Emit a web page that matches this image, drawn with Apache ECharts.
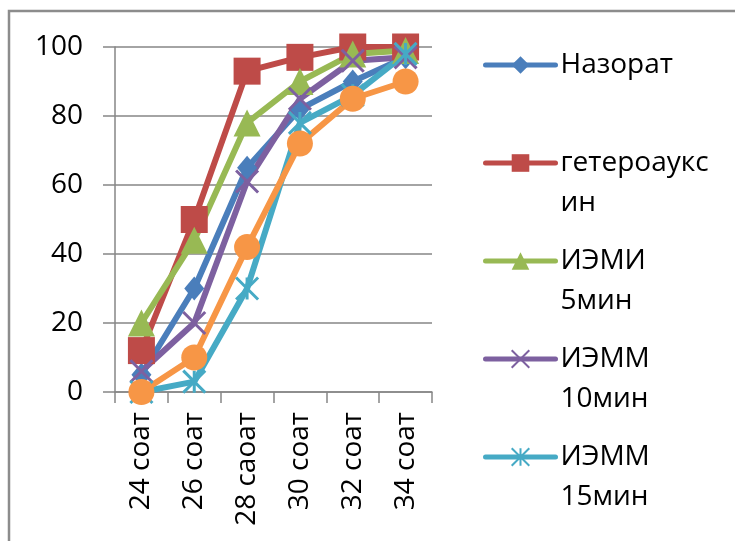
<!DOCTYPE html>
<html>
<head>
<meta charset="utf-8">
<script src="https://cdn.jsdelivr.net/npm/echarts@6/dist/echarts.min.js"></script>
<style>
  html, body { margin: 0; padding: 0; background: #ffffff; }
  #chart { width: 735px; height: 541px; }
</style>
</head>
<body>
<div id="chart"></div>
<script>
// Rooting percentage over time (hours)
const categories = ['24 соат', '26 соат', '28 саоат', '30 соат', '32 соат', '34 соат'];
const yTicks = { min: 0, max: 100, interval: 20 };

const nazorat      = [5, 30, 65, 82, 90, 97];
const geteroauksin = [12, 50, 93, 97, 100, 100];
const iemi5        = [20, 44, 78, 90, 98, 99];
const iemm10       = [6, 20, 61, 85, 96, 97];
const iemm15       = [0, 3, 30, 78, 86, 98];
const iemm20       = [0, 10, 42, 72, 85, 90];

const seriesNames = ['Назорат', 'гетероауксин', 'ИЭМИ 5мин', 'ИЭММ 10мин', 'ИЭММ 15мин', 'ИЭММ 20мин'];
const legendNames = seriesNames.slice(0, 5);
// Wrapped legend labels (leading blank line keeps the first line level with the icon)
const legendLabels = {
  'Назорат': '\nНазорат\n',
  'гетероауксин': '\nгетероаукс\nин',
  'ИЭМИ 5мин': '\nИЭМИ\n5мин',
  'ИЭММ 10мин': '\nИЭММ\n10мин',
  'ИЭММ 15мин': '\nИЭММ\n15мин'
};

const colors = ['#4A7EBB', '#BE4B48', '#98B954', '#7D60A0', '#46AAC5', '#F79646'];
const crossPath = 'path://M0,0L10,10M10,0L0,10';
const starPath = 'path://M0,0L10,10M10,0L0,10M5,0L5,10';

const FONT = 'Open Sans';
const axisGray = '#868686';

function lineSeries(name, data, color, symbol, size, stroked) {
  return {
    name: name,
    type: 'line',
    data: data,
    symbol: symbol,
    symbolSize: size,
    showAllSymbol: true,
    lineStyle: { color: color, width: 6 },
    itemStyle: stroked
      ? { color: color, borderColor: color, borderWidth: 3 }
      : { color: color, borderWidth: 0 },
    emphasis: { disabled: true },
    animation: false
  };
}

const chart = echarts.init(document.getElementById('chart'), null, { renderer: 'canvas' });
chart.setOption({
  backgroundColor: '#ffffff',
  color: colors,
  textStyle: { fontFamily: FONT },
  graphic: [{
    type: 'rect',
    shape: { x: 9, y: 11, width: 800, height: 600 },
    style: { fill: 'none', stroke: '#8C8C8C', lineWidth: 2.5 },
    z: -1
  }],
  grid: { left: 115, right: 303, top: 47, bottom: 149 },
  legend: {
    data: legendNames,
    orient: 'vertical',
    left: 483,
    top: 5,
    padding: 0,
    itemGap: -22,
    itemWidth: 70,
    itemHeight: 22,
    lineStyle: { width: 5, cap: 'round' },
    formatter: function (n) { return legendLabels[n] || n; },
    textStyle: { fontFamily: FONT, fontSize: 28, lineHeight: 40, color: '#000000' },
    selectedMode: false
  },
  xAxis: {
    type: 'category',
    data: categories,
    boundaryGap: true,
    axisLine: { show: true, lineStyle: { color: axisGray, width: 1.5 } },
    axisTick: { show: true, length: 11, alignWithLabel: false, lineStyle: { color: axisGray, width: 1.5 } },
    axisLabel: { rotate: 90, margin: 20, fontFamily: FONT, fontSize: 28, color: '#000000', interval: 0 },
    splitLine: { show: false }
  },
  yAxis: {
    type: 'value',
    min: yTicks.min,
    max: yTicks.max,
    interval: yTicks.interval,
    axisLine: { show: true, lineStyle: { color: axisGray, width: 1.5 } },
    axisTick: { show: true, length: 12, lineStyle: { color: axisGray, width: 1.5 } },
    axisLabel: { margin: 32, fontFamily: FONT, fontSize: 28, color: '#000000' },
    splitLine: { show: true, lineStyle: { color: axisGray, width: 1.5 } }
  },
  series: [
    lineSeries(seriesNames[0], nazorat, colors[0], 'diamond', [20, 24], false),
    lineSeries(seriesNames[1], geteroauksin, colors[1], 'rect', 27, false),
    lineSeries(seriesNames[2], iemi5, colors[2], 'triangle', 27, false),
    lineSeries(seriesNames[3], iemm10, colors[3], crossPath, 22, true),
    lineSeries(seriesNames[4], iemm15, colors[4], starPath, 22, true),
    lineSeries(seriesNames[5], iemm20, colors[5], 'circle', 26, false)
  ]
});
</script>
</body>
</html>
